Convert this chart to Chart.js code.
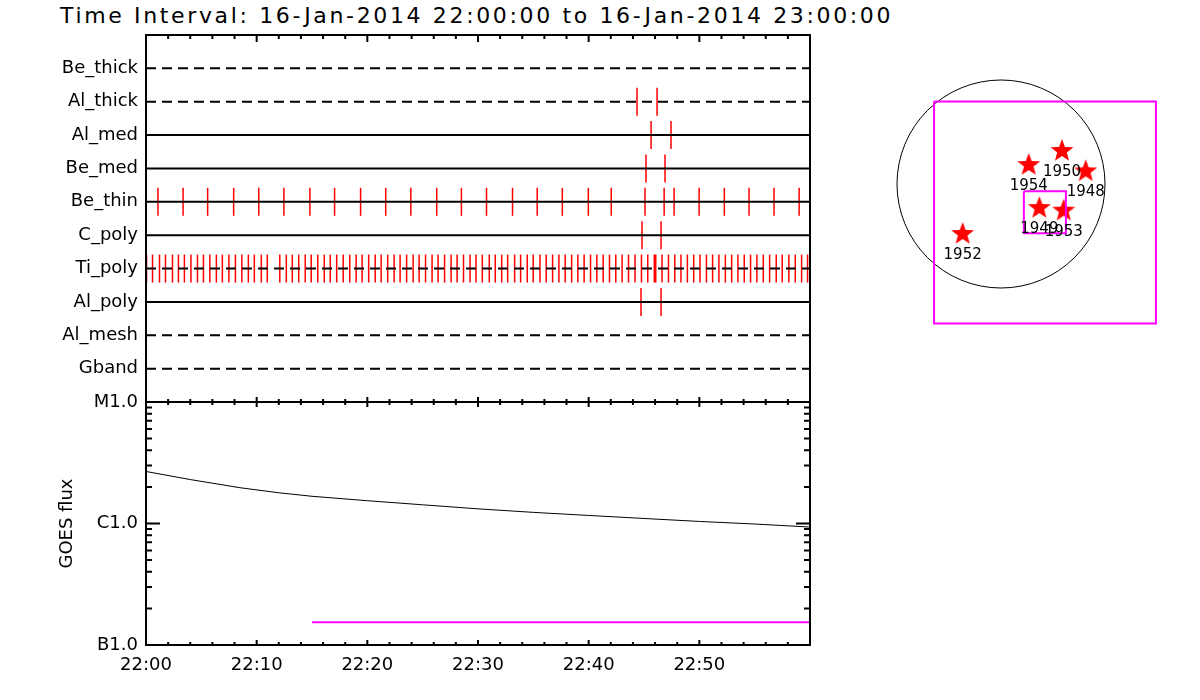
<!DOCTYPE html>
<html>
<head>
<meta charset="utf-8">
<script src="https://cdn.jsdelivr.net/npm/chart.js@4.4.0/dist/chart.umd.min.js"></script>
<style>
body { margin: 0; background: #fff; width: 1200px; height: 700px; position: relative; overflow: hidden; font-family: "DejaVu Sans"; }
#title { position: absolute; left: 60px; top: 3px; font-size: 22px; white-space: nowrap; color: #000; }
.box { position: absolute; }
</style>
</head>
<body>
<div id="title">Time Interval: 16-Jan-2014 22:00:00 to 16-Jan-2014 23:00:00</div>
<div class="box" style="left:0;top:0;width:830px;height:410px"><canvas id="topChart"></canvas></div>
<div class="box" style="left:0;top:385px;width:830px;height:315px"><canvas id="goesChart"></canvas></div>
<div class="box" style="left:890px;top:70px;width:280px;height:270px"><canvas id="mapChart"></canvas></div>
<script>
// minutes after 22:00
var timeTicks = [0, 10, 20, 30, 40, 50];
var timeLabels = ['22:00', '22:10', '22:20', '22:30', '22:40', '22:50'];

var filterNames = ['Gband', 'Al_mesh', 'Al_poly', 'Ti_poly', 'C_poly', 'Be_thin', 'Be_med', 'Al_med', 'Al_thick', 'Be_thick'];
var dashedFilters = ['Gband', 'Al_mesh', 'Ti_poly', 'Al_thick', 'Be_thick'];

// exposure times per filter (minutes after 22:00)
var alThickTimes = [44.37, 46.18];
var alMedTimes = [45.64, 47.44];
var beMedTimes = [45.18, 46.90];
var beThinTimes = [1.08, 3.35, 5.57, 7.92, 10.19, 12.46, 14.81, 17.04, 19.39, 21.66, 23.93, 26.27, 28.50,
    30.77, 33.12, 35.35, 37.62, 39.97, 42.04, 45.09, 46.82, 47.72, 49.98, 52.26, 54.49, 56.75, 59.02];
var cPolyTimes = [44.82, 46.54];
var tiPolyTimes = [0.05, 0.59, 1.22, 1.76, 2.39, 2.93, 3.47, 4.06, 4.65, 5.19, 5.77, 6.36, 6.90, 7.49, 8.08,
    8.66, 9.25, 9.79, 10.42, 10.96, 12.09, 12.68, 13.22, 13.80, 14.39, 14.93, 15.52, 16.11, 16.65, 17.23,
    17.82, 18.41, 18.99, 19.53, 20.12, 20.71, 21.25, 21.84, 22.42, 22.96, 23.55, 24.14, 24.68, 25.26, 25.85,
    26.39, 26.98, 27.57, 28.11, 28.69, 29.28, 29.82, 30.39, 31.02, 31.56, 32.14, 32.68, 33.31, 33.85, 34.45,
    34.99, 35.60, 36.16, 36.74, 37.31, 37.88, 38.46, 39.02, 39.59, 40.17, 40.74, 41.31, 41.88, 42.45, 43.02,
    43.60, 44.19, 44.77, 45.34, 45.93, 46.06, 46.63, 47.21, 47.78, 48.34, 48.92, 49.49, 50.06, 50.64, 51.20,
    51.77, 52.35, 52.92, 53.49, 54.06, 54.63, 55.20, 55.78, 56.35, 56.95, 57.49, 58.09, 58.67, 59.24, 59.78];
var alPolyTimes = [44.73, 46.54];

var exposureRows = [
    ['Al_thick', alThickTimes],
    ['Al_med', alMedTimes],
    ['Be_med', beMedTimes],
    ['Be_thin', beThinTimes],
    ['C_poly', cPolyTimes],
    ['Ti_poly', tiPolyTimes],
    ['Al_poly', alPolyTimes]
];

// GOES 1-8 A flux
var goesMinutes = [0, 4, 8.5, 12, 15, 20, 25, 30, 35, 40, 45, 50, 55, 59.9];
var goesFlux = [2.68e-6, 2.30e-6, 1.97e-6, 1.79e-6, 1.675e-6, 1.54e-6, 1.425e-6, 1.32e-6, 1.235e-6,
    1.165e-6, 1.10e-6, 1.04e-6, 0.99e-6, 0.936e-6];
var fluxTicks = [1e-7, 1e-6, 1e-5];
var fluxLabels = ['B1.0', 'C1.0', 'M1.0'];
var markerMinutes = [15, 60];
var markerFlux = [1.54e-7, 1.54e-7];

// flare map (arcsec)
var flareYears = ['1948', '1949', '1950', '1952', '1953', '1954'];
var flareX = [782, 354, 563, -354, 579, 256];
var flareY = [117, -222, 305, -461, -246, 175];
var solarRadius = 960;
var fovX = [-618, 1430, 1430, -618, -618];
var fovY = [761, 761, -1287, -1287, 761];
var subFovX = [211, 599, 599, 211, 211];
var subFovY = [-67, -67, -455, -455, -67];

Chart.defaults.font.family = 'DejaVu Sans';
Chart.defaults.color = '#000';
Chart.defaults.animation = false;

// stretch the title to the width it has in the IDL plot
var title = document.getElementById('title');
title.style.letterSpacing = ((833 - title.offsetWidth) / title.textContent.length) + 'px';

// frame and inward tick marks, like IDL draws them
var frameTicks = {
    id: 'frameTicks',
    afterDatasetsDraw: function (chart, args, opts) {
        var ctx = chart.ctx, a = chart.chartArea, xs = chart.scales.x;
        ctx.save();
        ctx.strokeStyle = '#000';
        ctx.lineWidth = 2;
        ctx.strokeRect(a.left, a.top, a.right - a.left, a.bottom - a.top);
        ctx.beginPath();
        for (var v = xs.min; v <= xs.max; v += 2) {
            var px = xs.getPixelForValue(v);
            var major = v % 10 === 0;
            var lt = major ? opts.top[0] : opts.top[1];
            var lb = major ? opts.bottom[0] : opts.bottom[1];
            ctx.moveTo(px, a.top);
            ctx.lineTo(px, a.top + lt);
            ctx.moveTo(px, a.bottom);
            ctx.lineTo(px, a.bottom - lb);
        }
        if (opts.logY) {
            var ys = chart.scales.y;
            for (var d = -7; d < -5; d++) {
                for (var m = 1; m <= 9; m++) {
                    var py = ys.getPixelForValue(m * Math.pow(10, d));
                    var len = m === 1 ? 14 : 6;
                    ctx.moveTo(a.left, py);
                    ctx.lineTo(a.left + len, py);
                    ctx.moveTo(a.right, py);
                    ctx.lineTo(a.right - len, py);
                }
            }
        }
        ctx.stroke();
        ctx.restore();
    }
};

function noEdgePadding(scale) {
    scale.paddingTop = 0;
    scale.paddingBottom = 0;
}

// ---- exposure panel ----
var topDatasets = [];
filterNames.forEach(function (name, i) {
    topDatasets.push({
        type: 'line',
        data: [{ x: 0, y: i + 1 }, { x: 60, y: i + 1 }],
        borderColor: '#000',
        borderWidth: 2,
        borderDash: dashedFilters.indexOf(name) >= 0 ? [10, 6] : [],
        pointRadius: 0
    });
});
exposureRows.forEach(function (row) {
    var level = filterNames.indexOf(row[0]) + 1;
    topDatasets.push({
        type: 'scatter',
        data: row[1].map(function (t) { return { x: t, y: level }; }),
        pointStyle: 'line',
        rotation: 90,
        pointRadius: 14,
        pointHoverRadius: 14,
        borderColor: '#ff0000',
        borderWidth: 1.5,
        clip: false
    });
});

new Chart(document.getElementById('topChart'), {
    type: 'scatter',
    data: { datasets: topDatasets },
    plugins: [frameTicks],
    options: {
        responsive: true,
        maintainAspectRatio: false,
        layout: { autoPadding: false, padding: { top: 35, right: 20, bottom: 8, left: 0 } },
        plugins: {
            legend: { display: false },
            tooltip: { enabled: false },
            frameTicks: { top: [7, 4], bottom: [5, 3] }
        },
        scales: {
            x: { type: 'linear', min: 0, max: 60, display: false },
            y: {
                type: 'linear', min: 0, max: 11,
                grid: { display: false, drawTicks: false },
                border: { display: false },
                afterBuildTicks: function (scale) {
                    scale.ticks = filterNames.map(function (n, i) { return { value: i + 1 }; });
                },
                afterFit: function (scale) { scale.width = 146; noEdgePadding(scale); },
                ticks: {
                    padding: 8,
                    font: { size: 18 },
                    callback: function (v) { return filterNames[v - 1]; }
                }
            }
        }
    }
});

// ---- GOES panel ----
new Chart(document.getElementById('goesChart'), {
    type: 'line',
    data: {
        datasets: [{
            data: goesMinutes.map(function (t, i) { return { x: t, y: goesFlux[i] }; }),
            borderColor: '#000',
            borderWidth: 1,
            pointRadius: 0
        }, {
            data: markerMinutes.map(function (t, i) { return { x: t, y: markerFlux[i] }; }),
            borderColor: '#ff00ff',
            borderWidth: 2,
            pointRadius: 0
        }]
    },
    plugins: [frameTicks],
    options: {
        responsive: true,
        maintainAspectRatio: false,
        layout: { autoPadding: false, padding: { top: 17, right: 20, bottom: 0, left: 0 } },
        plugins: {
            legend: { display: false },
            tooltip: { enabled: false },
            frameTicks: { top: [5, 3], bottom: [5, 3], logY: true }
        },
        scales: {
            x: {
                type: 'linear', min: 0, max: 60,
                grid: { display: false, drawTicks: false },
                border: { display: false },
                afterBuildTicks: function (scale) {
                    scale.ticks = timeTicks.map(function (v) { return { value: v }; });
                },
                afterFit: function (scale) { scale.height = 55; },
                ticks: {
                    padding: 10,
                    maxRotation: 0,
                    autoSkip: false,
                    font: { size: 18 },
                    callback: function (v, i) { return timeLabels[i]; }
                }
            },
            y: {
                type: 'logarithmic', min: 1e-7, max: 1e-5,
                grid: { display: false, drawTicks: false },
                border: { display: false },
                title: { display: true, text: 'GOES flux', font: { size: 18 }, padding: { top: 57, bottom: 0 } },
                afterBuildTicks: function (scale) {
                    scale.ticks = fluxTicks.map(function (v) { return { value: v }; });
                },
                afterFit: function (scale) { scale.width = 146; noEdgePadding(scale); },
                ticks: {
                    padding: 8,
                    font: { size: 18 },
                    callback: function (v, i) { return fluxLabels[i]; }
                }
            }
        }
    }
});

// ---- flare location map ----
function makeStar(r) {
    var c = document.createElement('canvas');
    c.width = c.height = 2 * r + 2;
    var g = c.getContext('2d');
    g.fillStyle = '#ff0000';
    g.beginPath();
    for (var i = 0; i < 10; i++) {
        var rad = i % 2 ? r * 0.42 : r;
        var ang = -Math.PI / 2 + i * Math.PI / 5;
        g.lineTo(r + 1 + rad * Math.cos(ang), r + 1 + rad * Math.sin(ang));
    }
    g.closePath();
    g.fill();
    return c;
}

var limbAndLabels = {
    id: 'limbAndLabels',
    beforeDatasetsDraw: function (chart) {
        var ctx = chart.ctx, xs = chart.scales.x, ys = chart.scales.y;
        var cx = xs.getPixelForValue(0), cy = ys.getPixelForValue(0);
        ctx.save();
        ctx.strokeStyle = '#000';
        ctx.lineWidth = 1;
        ctx.beginPath();
        ctx.arc(cx, cy, xs.getPixelForValue(solarRadius) - cx, 0, 2 * Math.PI);
        ctx.stroke();
        ctx.restore();
    },
    afterDatasetsDraw: function (chart) {
        var ctx = chart.ctx;
        var meta = chart.getDatasetMeta(2);
        ctx.save();
        ctx.fillStyle = '#000';
        ctx.font = '15px "DejaVu Sans"';
        ctx.textAlign = 'center';
        ctx.textBaseline = 'middle';
        meta.data.forEach(function (el, i) {
            ctx.fillText(flareYears[i], el.x, el.y + 21);
        });
        ctx.restore();
    }
};

new Chart(document.getElementById('mapChart'), {
    type: 'scatter',
    data: {
        datasets: [{
            data: fovX.map(function (x, i) { return { x: x, y: fovY[i] }; }),
            showLine: true,
            borderColor: '#ff00ff',
            borderWidth: 2,
            pointRadius: 0,
            clip: false
        }, {
            data: subFovX.map(function (x, i) { return { x: x, y: subFovY[i] }; }),
            showLine: true,
            borderColor: '#ff00ff',
            borderWidth: 2,
            pointRadius: 0,
            clip: false
        }, {
            data: flareX.map(function (x, i) { return { x: x, y: flareY[i] }; }),
            pointStyle: makeStar(12),
            clip: false
        }]
    },
    plugins: [limbAndLabels],
    options: {
        responsive: true,
        maintainAspectRatio: false,
        layout: { autoPadding: false, padding: 0 },
        plugins: { legend: { display: false }, tooltip: { enabled: false } },
        scales: {
            x: { type: 'linear', min: -1024.6, max: 1560, display: false },
            y: { type: 'linear', min: -1440, max: 1052.3, display: false }
        }
    }
});
</script>
</body>
</html>
